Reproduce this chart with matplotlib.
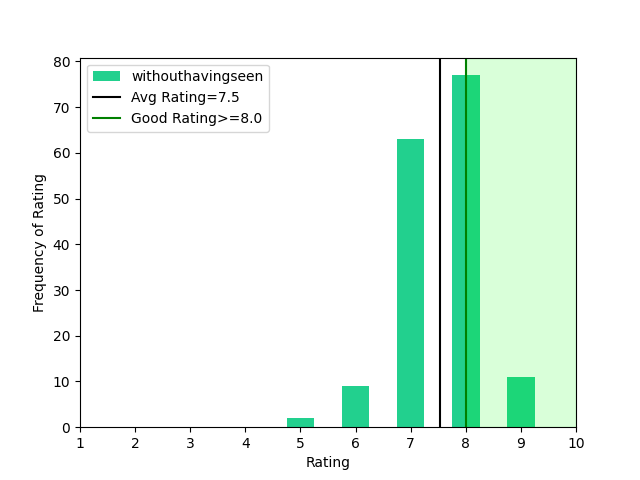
import matplotlib
matplotlib.use("Agg")
import matplotlib.pyplot as plt
import numpy as np

ratings = [5, 6, 7, 8, 9]
counts = [2, 9, 63, 77, 11]
xticks = list(range(1, 11))
good = 8.0

avg = sum(r * c for r, c in zip(ratings, counts)) / sum(counts)

fig, ax = plt.subplots(figsize=(6.4, 4.8), dpi=100)
b = ax.bar(ratings, counts, width=0.5, color='#22d08e', label='withouthavingseen')
l1 = ax.axvline(avg, color='black', label='Avg Rating=%.1f' % avg)
l2 = ax.axvline(good, color='green', label='Good Rating>=%.1f' % good)
ax.axvspan(good, 10, color='lime', alpha=0.15)
ax.set_xlim(1, 10)
ax.set_xticks(xticks)
ax.set_xlabel('Rating')
ax.set_ylabel('Frequency of Rating')
ax.legend(handles=[b, l1, l2], loc='upper left')
fig.savefig('out.png')
